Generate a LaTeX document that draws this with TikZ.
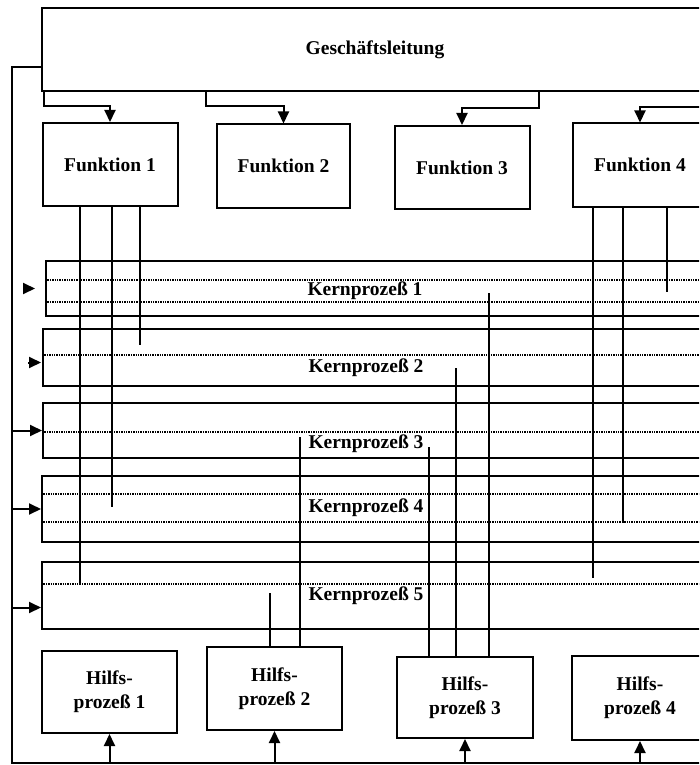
\documentclass[tikz,border=0pt]{standalone}
\usepackage{fontspec}
\setmainfont{Liberation Serif}
\usetikzlibrary{arrows.meta}

\begin{document}
\begin{tikzpicture}[x=1pt,y=-1pt,line width=2pt,
    box/.style={draw,minimum width=135pt,minimum height=83pt,align=center,
      font=\bfseries\fontsize{19.5}{24}\selectfont},
    band/.style={draw,anchor=north west,minimum width=700pt},
    lbl/.style={font=\bfseries\fontsize{19.5}{24}\selectfont},
    dots/.style={densely dotted,line width=1.4pt},
    arr/.style={-{Triangle[length=12pt,width=11pt]}}]
  \useasboundingbox (0,0) rectangle (699,765);
  \clip (0,0) rectangle (699,765);

  % Leitung und Funktionen
  \node[box,minimum width=666pt] (gl) at (375,49.5) {Geschäftsleitung};
  \node[box] (f1) at (110,164.5) {Funktion 1};
  \node[box,minimum width=133pt] (f2) at (283.5,166) {Funktion 2};
  \node[box] (f3) at (462,167.5) {Funktion 3};
  \node[box,minimum width=134pt] (f4) at (640,165) {Funktion 4};

  % Kernprozesse
  \node[band,minimum height=55pt] (k1) at (45,260) {};
  \node[band,minimum height=57pt] (k2) at (42,328) {};
  \node[band,minimum height=55pt] (k3) at (42,402) {};
  \node[band,minimum height=66pt] (k4) at (41,475) {};
  \node[band,minimum height=67pt] (k5) at (41,561) {};
  \draw[dots] ([yshift=-20pt]k1.north west) -- ([yshift=-20pt]k1.north east);
  \draw[dots] ([yshift=-42pt]k1.north west) -- ([yshift=-42pt]k1.north east);
  \draw[dots] ([yshift=-27pt]k2.north west) -- ([yshift=-27pt]k2.north east);
  \draw[dots] ([yshift=-30pt]k3.north west) -- ([yshift=-30pt]k3.north east);
  \draw[dots] ([yshift=-19pt]k4.north west) -- ([yshift=-19pt]k4.north east);
  \draw[dots] ([yshift=-47pt]k4.north west) -- ([yshift=-47pt]k4.north east);
  \draw[dots] ([yshift=-23pt]k5.north west) -- ([yshift=-23pt]k5.north east);
  \node[lbl] (k1t) at (365,291) {Kernprozeß 1};
  \node[lbl] (k2t) at (366,368) {Kernprozeß 2};
  \node[lbl] (k3t) at (366,444) {Kernprozeß 3};
  \node[lbl] (k4t) at (366,508) {Kernprozeß 4};
  \node[lbl] (k5t) at (366,596) {Kernprozeß 5};

  % Hilfsprozesse
  \node[box,minimum height=82pt] (h1) at (109.5,692) {Hilfs-\\prozeß 1};
  \node[box,minimum height=83pt] (h2) at (274.5,688.5) {Hilfs-\\prozeß 2};
  \node[box,minimum width=136pt,minimum height=81pt] (h3) at (465,697.5) {Hilfs-\\prozeß 3};
  \node[box,minimum width=136pt,minimum height=84pt] (h4) at (640,698) {Hilfs-\\prozeß 4};

  % Enden der Linien in den Kernprozessen
  \coordinate (a1) at (80,583);
  \coordinate (a2) at (112,507);
  \coordinate (a3) at (140,345);
  \coordinate (a4) at (593,578);
  \coordinate (a5) at (623,523);
  \coordinate (a6) at (667,292);
  \coordinate (b1) at (270,593);
  \coordinate (b2) at (300,437);
  \coordinate (b3) at (429,447);
  \coordinate (b4) at (456,368);
  \coordinate (b5) at (489,293);
  \draw (f1.south -| a1) -- (a1);
  \draw (f1.south -| a2) -- (a2);
  \draw (f1.south -| a3) -- (a3);
  \draw (f4.south -| a4) -- (a4);
  \draw (f4.south -| a5) -- (a5);
  \draw (f4.south -| a6) -- (a6);
  \draw (h2.north -| b1) -- (b1);
  \draw (h2.north -| b2) -- (b2);
  \draw (h3.north -| b3) -- (b3);
  \draw (h3.north -| b4) -- (b4);
  \draw (h3.north -| b5) -- (b5);

  % Leitung -> Funktionen
  \draw[arr] ([xshift=3pt]gl.south west) -- ++(0,14) -| (f1.north);
  \draw[arr] ([xshift=165pt]gl.south west) -- ++(0,14) -| (f2.north);
  \draw[arr] ([xshift=498pt]gl.south west) -- ++(0,16) -| (f3.north);
  \coordinate (f4in) at (710,107);
  \draw[arr] (f4in) -| (f4.north);

  % Rueckfuehrung links und unten
  \coordinate (lb) at (12,763);
  \coordinate (rb) at (710,763);
  \draw ([yshift=-18pt]gl.west) -| (lb) -- (rb);
  \draw[arr] ([xshift=-22pt]k1.west) -- ([xshift=-10pt]k1.west);
  \draw[arr] ([xshift=-14pt,yshift=-5pt]k2.west) -- ([xshift=-1pt,yshift=-5pt]k2.west);
  \draw[arr] (lb |- k3.west) -- (k3.west);
  \draw[arr] (lb |- k4.west) -- (k4.west);
  \path ([yshift=-12pt]k5.west) coordinate (k5in);
  \draw[arr] (lb |- k5in) -- (k5in);
  \draw[arr] (h1.south |- lb) -- (h1.south);
  \draw[arr] (h2.south |- lb) -- (h2.south);
  \draw[arr] (h3.south |- lb) -- (h3.south);
  \draw[arr] (h4.south |- lb) -- (h4.south);
\end{tikzpicture}
\end{document}
